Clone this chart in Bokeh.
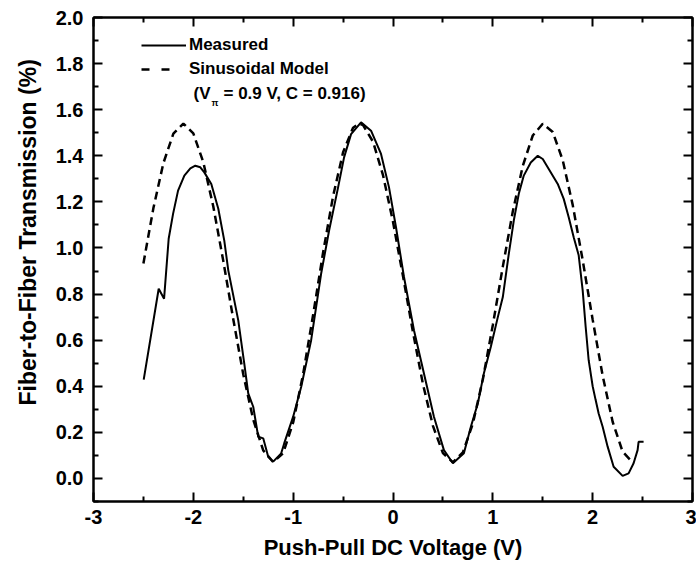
import math
from bokeh.plotting import figure
from bokeh.models import (LinearAxis, FixedTicker, Legend, LegendItem, Label, Title,
                          Range1d, NumeralTickFormatter, CustomJSTickFormatter)
from bokeh.embed import file_html
from bokeh.resources import INLINE

# ---- data ----
measured_v = [-2.497, -2.347, -2.293, -2.247, -2.203, -2.153, -2.09, -2.03, -1.98, -1.93,
              -1.89, -1.82, -1.75, -1.69, -1.65, -1.55, -1.49, -1.45, -1.40, -1.35,
              -1.30, -1.25, -1.20, -1.12, -1.09, -1.00, -0.92, -0.82, -0.72, -0.64,
              -0.55, -0.49, -0.42, -0.32, -0.22, -0.12, -0.04, 0.03, 0.11, 0.21,
              0.31, 0.41, 0.51, 0.60, 0.71, 0.78, 0.85, 0.91, 0.98, 1.05,
              1.10, 1.16, 1.21, 1.26, 1.31, 1.38, 1.45, 1.50, 1.56, 1.65,
              1.71, 1.76, 1.81, 1.86, 1.90, 1.93, 1.96, 2.00, 2.03, 2.06,
              2.10, 2.15, 2.21, 2.30, 2.36, 2.41, 2.45, 2.46, 2.51]
measured_t = [0.429, 0.823, 0.780, 1.040, 1.148, 1.249, 1.314, 1.345, 1.357, 1.350,
              1.328, 1.278, 1.170, 1.032, 0.903, 0.686, 0.499, 0.369, 0.311, 0.181,
              0.174, 0.094, 0.073, 0.109, 0.152, 0.268, 0.397, 0.600, 0.888, 1.076,
              1.263, 1.393, 1.494, 1.545, 1.509, 1.408, 1.263, 1.090, 0.874, 0.643,
              0.455, 0.268, 0.123, 0.066, 0.109, 0.224, 0.326, 0.455, 0.571, 0.700,
              0.787, 0.975, 1.119, 1.235, 1.314, 1.371, 1.400, 1.386, 1.343, 1.278,
              1.213, 1.133, 1.047, 0.968, 0.816, 0.657, 0.513, 0.400, 0.340, 0.282,
              0.224, 0.138, 0.051, 0.011, 0.022, 0.066, 0.123, 0.159, 0.159]

model_v = [-2.5, -2.4, -2.3, -2.2, -2.1, -2.0, -1.9, -1.8, -1.7, -1.6,
           -1.5, -1.4, -1.3, -1.2, -1.1, -1.0, -0.9, -0.8, -0.7, -0.6,
           -0.5, -0.4, -0.34, -0.3, -0.2, -0.1, 0.0, 0.1, 0.2, 0.3,
           0.4, 0.5, 0.6, 0.7, 0.8, 0.9, 1.0, 1.1, 1.2, 1.3,
           1.4, 1.5, 1.6, 1.7, 1.8, 1.9, 2.0, 2.1, 2.2, 2.3, 2.4]
model_t = [0.933, 1.173, 1.368, 1.496, 1.540, 1.497, 1.372, 1.180, 0.944, 0.691,
           0.452, 0.255, 0.122, 0.071, 0.110, 0.243, 0.453, 0.710, 0.981, 1.225,
           1.415, 1.522, 1.540, 1.533, 1.461, 1.316, 1.114, 0.878, 0.635, 0.409,
           0.228, 0.110, 0.070, 0.113, 0.238, 0.430, 0.666, 0.919, 1.158, 1.356,
           1.488, 1.539, 1.503, 1.381, 1.187, 0.947, 0.689, 0.446, 0.246, 0.116, 0.070]

x_ticks = [-3, -2, -1, 0, 1, 2, 3]
x_minor = [-2.5, -1.5, -0.5, 0.5, 1.5, 2.5]
y_ticks = [0.0, 0.2, 0.4, 0.6, 0.8, 1.0, 1.2, 1.4, 1.6, 1.8, 2.0]
y_minor = [-0.1, 0.1, 0.3, 0.5, 0.7, 0.9, 1.1, 1.3, 1.5, 1.7, 1.9]

x_label = "Push-Pull DC Voltage (V)"
y_label = "Fiber-to-Fiber Transmission (%)"

FONT = "Liberation Sans"

p = figure(width=696, height=566, x_range=Range1d(-3, 3), y_range=Range1d(-0.1, 2.0),
           output_backend="svg", toolbar_location=None,
           min_border_left=92, min_border_right=4, min_border_top=17, min_border_bottom=65)
p.grid.visible = False
p.outline_line_color = "black"
p.outline_line_width = 2
p.background_fill_color = "white"
p.border_fill_color = "white"


def style(ax, labels=True):
    ax.axis_line_width = 2
    ax.axis_line_color = "black"
    ax.major_tick_line_width = 2
    ax.minor_tick_line_width = 2
    ax.major_tick_in = 9
    ax.major_tick_out = 0
    ax.minor_tick_in = 5
    ax.minor_tick_out = 0
    ax.major_label_text_font = FONT
    ax.major_label_text_font_style = "bold"
    ax.major_label_text_color = "black"
    if labels:
        ax.major_label_text_font_size = "20px"
    else:
        ax.major_label_text_font_size = "0px"
        ax.major_label_standoff = 0
        ax.formatter = CustomJSTickFormatter(code="return ''")


xa = p.xaxis[0]
xa.ticker = FixedTicker(ticks=x_ticks, minor_ticks=x_minor)
style(xa)
xa.major_label_overrides = {t: str(t) for t in x_ticks}
xa.major_label_standoff = 8
xa.axis_label = x_label
xa.axis_label_standoff = 8
xa.axis_label_text_font = FONT
xa.axis_label_text_font_style = "bold"
xa.axis_label_text_font_size = "22px"
xa.axis_label_text_color = "black"

ya = p.yaxis[0]
ya.ticker = FixedTicker(ticks=y_ticks, minor_ticks=y_minor)
style(ya)
ya.formatter = NumeralTickFormatter(format="0.0")
ya.major_label_standoff = 10

top = LinearAxis(ticker=FixedTicker(ticks=x_ticks, minor_ticks=x_minor))
style(top, labels=False)
p.add_layout(top, "above")
right = LinearAxis(ticker=FixedTicker(ticks=y_ticks, minor_ticks=y_minor))
style(right, labels=False)
p.add_layout(right, "right")

ytitle = Title(text=y_label, align="left", offset=96, standoff=24,
               text_font=FONT, text_font_style="bold", text_font_size="23px",
               text_color="black")
p.add_layout(ytitle, "left")

r1 = p.line(measured_v, measured_t, line_color="black", line_width=2)
r2 = p.line(model_v, model_t, line_color="black", line_width=2.5, line_dash="8 5")
r2_key = p.line(model_v[:1], model_t[:1], line_color="black", line_width=2.5,
                line_dash="8 12 8 40")

legend = Legend(items=[LegendItem(label="Measured", renderers=[r1]),
                       LegendItem(label="Sinusoidal Model", renderers=[r2_key])],
                location=(48, 422), glyph_width=45, glyph_height=20, label_height=20,
                spacing=4, padding=0, margin=0, label_standoff=3,
                border_line_color=None, background_fill_alpha=0,
                label_text_font=FONT, label_text_font_style="bold",
                label_text_font_size="17px", label_text_color="black")
p.add_layout(legend)

lab_kw = dict(x_units="screen", y_units="screen", text_font=FONT, text_font_style="bold",
              text_color="black", text_baseline="middle")
p.add_layout(Label(x=100, y=408, text="(V", text_font_size="17px", **lab_kw))
p.add_layout(Label(x=118, y=399, text="\u03c0", text_font_size="9px", **lab_kw))
p.add_layout(Label(x=130, y=408, text="= 0.9 V, C = 0.916)", text_font_size="17px", **lab_kw))

open("out.html", "w").write(file_html(p, INLINE))
